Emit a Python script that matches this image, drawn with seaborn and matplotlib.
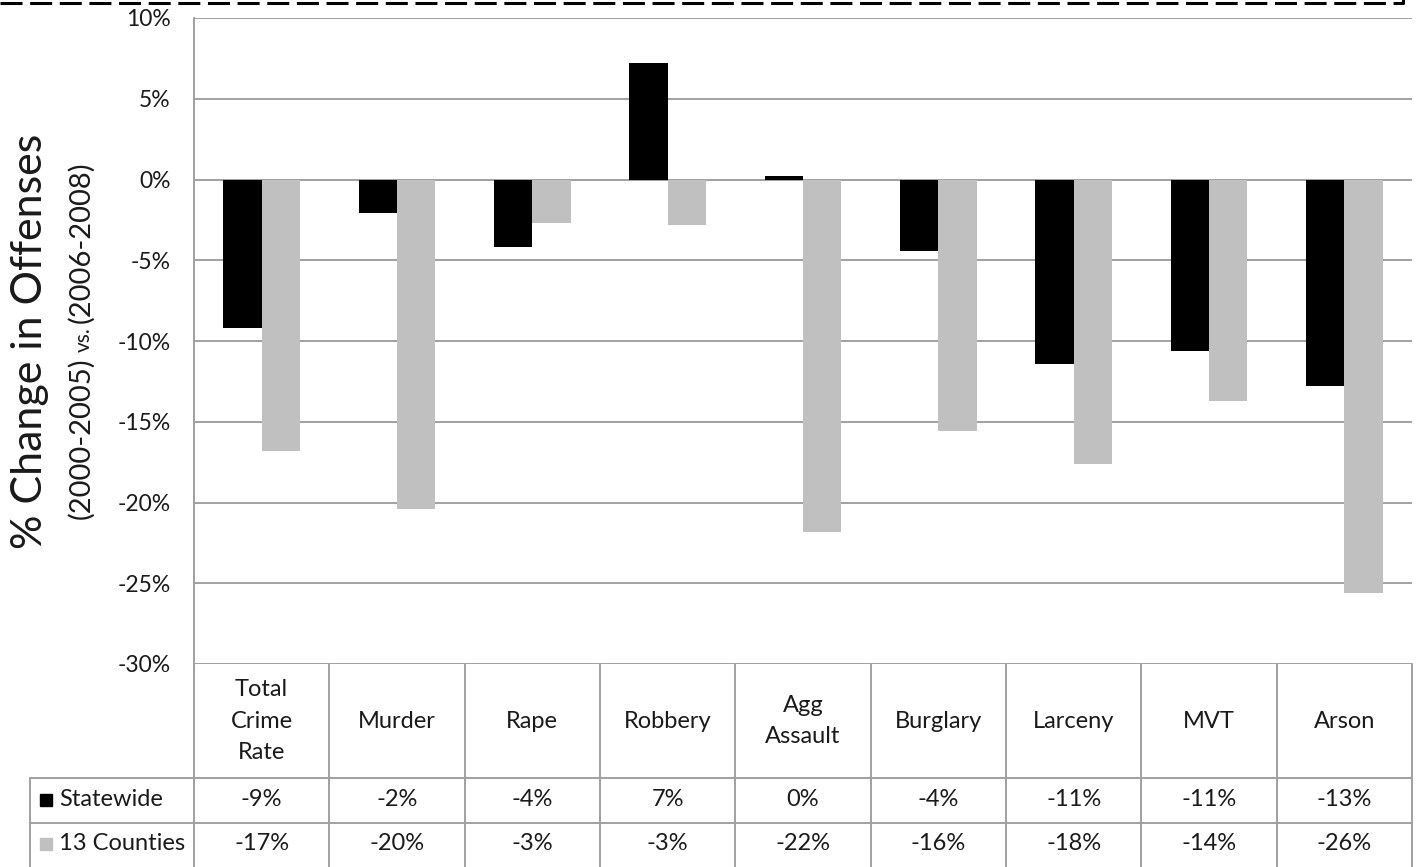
import matplotlib
matplotlib.use("Agg")
import matplotlib.pyplot as plt
import seaborn as sns
import pandas as pd
from matplotlib.transforms import blended_transform_factory
from matplotlib.lines import Line2D

categories = ["Total\nCrime\nRate", "Murder", "Rape", "Robbery", "Agg\nAssault",
              "Burglary", "Larceny", "MVT", "Arson"]
series_names = ["Statewide", "13 Counties"]
statewide = [-9.2, -2.1, -4.2, 7.2, 0.2, -4.4, -11.4, -10.6, -12.8]
counties = [-16.8, -20.4, -2.7, -2.8, -21.8, -15.6, -17.6, -13.7, -25.6]
statewide_labels = ["-9%", "-2%", "-4%", "7%", "0%", "-4%", "-11%", "-11%", "-13%"]
counties_labels = ["-17%", "-20%", "-3%", "-3%", "-22%", "-16%", "-18%", "-14%", "-26%"]
yticks = [10, 5, 0, -5, -10, -15, -20, -25, -30]
ytick_labels = ["10%", "5%", "0%", "-5%", "-10%", "-15%", "-20%", "-25%", "-30%"]
colors = {"Statewide": "#000000", "13 Counties": "#c0c0c0"}

df = pd.DataFrame({
    "Category": categories * 2,
    "Series": [series_names[0]] * len(categories) + [series_names[1]] * len(categories),
    "Value": statewide + counties,
})

sns.set_theme(style="white")
plt.rcParams["font.family"] = ["Lato", "DejaVu Sans"]

TXT_C = "#1a1a1a"
W, H = 1419, 867
fig = plt.figure(figsize=(W / 100, H / 100), dpi=100)
ax_left, ax_right, ax_top, ax_bottom = 194, 1412, 18, 664
ax = fig.add_axes([ax_left / W, 1 - ax_bottom / H, (ax_right - ax_left) / W, (ax_bottom - ax_top) / H])

sns.barplot(data=df, x="Category", y="Value", hue="Series", order=categories,
            hue_order=series_names, palette=colors, width=0.565, linewidth=0,
            ax=ax, legend=False, zorder=3)

grid_c = "#a0a0a0"
ax.set_ylim(-30, 10)
ax.set_xlim(-0.5, len(categories) - 0.5)
ax.set_yticks(yticks)
ax.set_yticklabels(ytick_labels, fontsize=16.5, color=TXT_C)
ax.tick_params(axis="y", length=0, pad=17)
ax.set_xticks([])
ax.set_xlabel("")
ax.set_ylabel("")
for y in yticks:
    ax.axhline(y, color=grid_c, lw=1.4, zorder=1)
for s in ["top", "right", "bottom"]:
    ax.spines[s].set_visible(False)
ax.spines["left"].set_color(grid_c)
ax.spines["left"].set_linewidth(1.4)

# ----- data table beneath -----
trans = blended_transform_factory(ax.transData, ax.transAxes)
axh = ax_bottom - ax_top
def ya(py):
    return (ax_bottom - py) / axh

row1_top = ya(778)
row2_top = ya(823)
bottom = ya(880)
xl = -0.5 - (ax_left - 30) / 135.3
xr = len(categories) - 0.5
lk = dict(color=grid_c, lw=1.4, transform=trans, clip_on=False)

for yy in [row1_top, row2_top]:
    ax.add_line(Line2D([xl, xr], [yy, yy], **lk))
ax.add_line(Line2D([xl, xl], [row1_top, bottom], **lk))
for i in range(len(categories) + 1):
    xb = i - 0.5
    ax.add_line(Line2D([xb, xb], [0, bottom], **lk))

TFS = 17
txt = dict(transform=trans, ha="center", va="center", fontsize=TFS, color=TXT_C,
           clip_on=False)
for i, c in enumerate(categories):
    ax.text(i, ya(721), c, linespacing=1.6, **txt)
    ax.text(i, ya(800), statewide_labels[i], **txt)
    ax.text(i, ya(844), counties_labels[i], **txt)

key_x = -0.5 - (ax_left - 46) / 135.3
lab_x = -0.5 - (ax_left - 59) / 135.3
for yy, name in [(ya(800), series_names[0]), (ya(844), series_names[1])]:
    ax.plot([key_x], [yy], marker="s", ms=9, color=colors[name], mec=colors[name],
            transform=trans, clip_on=False, linestyle="none")
    ax.text(lab_x, yy, name, transform=trans, ha="left", va="center", fontsize=TFS,
            color=TXT_C, clip_on=False)

# ----- axis title -----
fig.text(30 / W, 1 - 341 / H, "% Change in Offenses", rotation=90, ha="center",
         va="center", fontsize=31, color=TXT_C)

renderer = fig.canvas.get_renderer()
sub_right = 94  # pixel x of baseline/descent side
pieces = [("(2000-2005)", 21), ("vs.", 15), ("(2006-2008)", 21)]
cur = 519.0  # pixel y (from top) where the next piece starts (its bottom)
for k, (s, fs) in enumerate(pieces):
    t = fig.text(sub_right / W, 1 - cur / H, s, rotation=90, ha="right", va="bottom",
                 fontsize=fs, color=TXT_C)
    bb = t.get_window_extent(renderer)
    cur -= bb.height + 5

# ----- dashed frame line at top -----
fig.add_artist(Line2D([0, 1403 / W], [1 - 3 / H, 1 - 3 / H], transform=fig.transFigure,
                      color="black", lw=2.2, dashes=(7.2, 2.5)))
fig.add_artist(Line2D([1403 / W, 1403 / W], [1 - 3 / H, 1.0], transform=fig.transFigure,
                      color="black", lw=2.2))

fig.savefig("out.png", dpi=100)
